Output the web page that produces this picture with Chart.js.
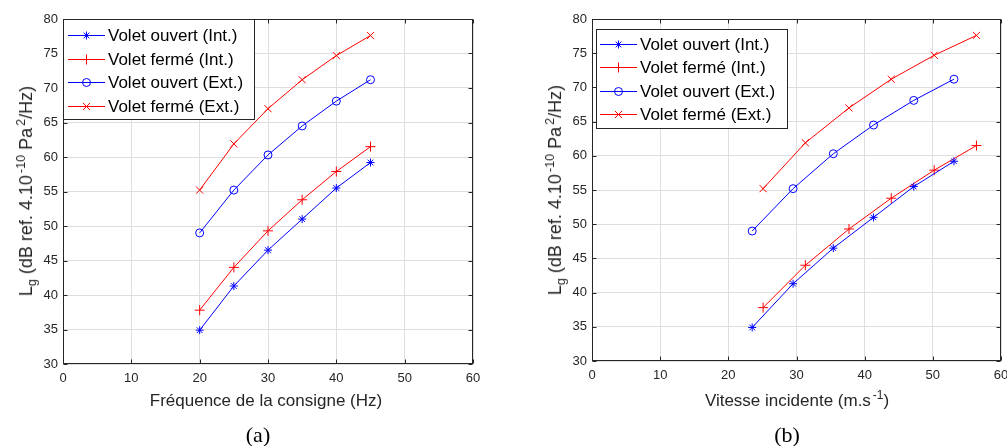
<!DOCTYPE html>
<html>
<head>
<meta charset="utf-8">
<script src="https://cdn.jsdelivr.net/npm/chart.js@4/dist/chart.umd.min.js"></script>
<style>
  body { margin: 0; background: #fff; width: 1007px; height: 446px; position: relative; overflow: hidden;
         font-family: Arial, "Liberation Sans", sans-serif; }
  canvas { position: absolute; top: 0; }
  .t { position: absolute; color: #262626; white-space: nowrap; line-height: 1;
       transform: translate(-50%, -50%); }
  .xt { font-size: 17px; }
  .yt { font-size: 18px; transform: translate(-50%, -50%) rotate(-90deg); }
  .cap { font-family: "Liberation Serif", "Times New Roman", serif; font-size: 22px; color: #000; }
  sup, sub { font-size: 0.7em; vertical-align: 0; position: relative; }
  sup { top: -0.55em; margin-left: 2px; }
  sub { top: 0.35em; }
</style>
</head>
<body>
<canvas id="chartA" width="500" height="446" style="left:0"></canvas>
<canvas id="chartB" width="487" height="446" style="left:520px"></canvas>

<div class="t yt" style="left:26px; top:191px">L<sub>g</sub> (dB ref. 4.10<sup>-10</sup> Pa<sup>2</sup>/Hz)</div>
<div class="t xt" style="left:266px; top:400px">Fréquence de la consigne (Hz)</div>
<div class="t cap" style="left:258px; top:435px">(a)</div>

<div class="t yt" style="left:555px; top:190px">L<sub>g</sub> (dB ref. 4.10<sup>-10</sup> Pa<sup>2</sup>/Hz)</div>
<div class="t xt" style="left:797px; top:400px">Vitesse incidente (m.s<sup>-1</sup>)</div>
<div class="t cap" style="left:787px; top:435px">(b)</div>

<script>
// values
const seriesLabels = ["Volet ouvert (Int.)", "Volet fermé (Int.)", "Volet ouvert (Ext.)", "Volet fermé (Ext.)"];
const freqHz      = [20, 25, 30, 35, 40, 45];
const speedOuvert = [23.5, 29.5, 35.4, 41.3, 47.2, 53.1];
const speedFerme  = [25.1, 31.3, 37.7, 43.9, 50.2, 56.4];
const ouvertInt = [34.9, 41.3, 46.5, 51.0, 55.5, 59.2];
const fermeInt  = [37.8, 44.0, 49.3, 53.8, 57.9, 61.5];
const ouvertExt = [49.0, 55.2, 60.3, 64.5, 68.1, 71.2];
const fermeExt  = [55.2, 61.9, 67.0, 71.2, 74.7, 77.6];
const xMin = 0, xMax = 60, xStep = 10;
const yMin = 30, yMax = 80, yStep = 5;

const styles = [
    { color: "#0000ff", pointStyle: "star",     radius: 4 },
    { color: "#ff0000", pointStyle: "cross",    radius: 5 },
    { color: "#0000ff", pointStyle: "circle",   radius: 4 },
    { color: "#ff0000", pointStyle: "crossRot", radius: 5 },
];

const axisColor = "#262626";
const gridColor = "#dedede";

function pairs(xs, ys) {
    return xs.map((x, i) => ({ x: x, y: ys[i] }));
}

// MATLAB-like box with inward ticks on the four sides
const boxPlugin = {
    id: "box",
    afterDatasetsDraw(chart) {
        const { ctx, chartArea: a, scales } = chart;
        const L = Math.round(a.left) + 0.5, R = Math.round(a.right) - 0.5;
        const T = Math.round(a.top) + 0.5, B = Math.round(a.bottom) - 0.5;
        ctx.save();
        ctx.strokeStyle = axisColor;
        ctx.lineWidth = 1;
        ctx.beginPath();
        scales.x.ticks.forEach(t => {
            const px = Math.round(scales.x.getPixelForValue(t.value)) + 0.5;
            ctx.moveTo(px, B); ctx.lineTo(px, B - 4);
            ctx.moveTo(px, T); ctx.lineTo(px, T + 4);
        });
        scales.y.ticks.forEach(t => {
            const py = Math.round(scales.y.getPixelForValue(t.value)) + 0.5;
            ctx.moveTo(L, py); ctx.lineTo(L + 4, py);
            ctx.moveTo(R, py); ctx.lineTo(R - 4, py);
        });
        ctx.stroke();
        ctx.strokeRect(L, T, R - L, B - T);
        ctx.restore();
    }
};

// legend drawn inside the axes, boxed
const boxLegend = {
    id: "boxLegend",
    afterDraw(chart, args, opts) {
        const { ctx } = chart;
        const bx = opts.x, by = opts.y, bw = opts.w, bh = opts.h;
        ctx.save();
        ctx.fillStyle = "#fff";
        ctx.fillRect(bx, by, bw, bh);
        ctx.strokeStyle = axisColor;
        ctx.lineWidth = 1;
        ctx.strokeRect(bx + 0.5, by + 0.5, bw, bh);
        ctx.font = "17px Arial, 'Liberation Sans', sans-serif";
        ctx.textBaseline = "middle";
        chart.data.datasets.forEach((ds, i) => {
            const y = Math.round(by + opts.first + i * opts.gap) + 0.5;
            const st = styles[i];
            ctx.strokeStyle = st.color;
            ctx.lineWidth = 1;
            ctx.beginPath();
            ctx.moveTo(bx + opts.lineFrom, y);
            ctx.lineTo(bx + opts.lineTo, y);
            ctx.stroke();
            ctx.fillStyle = "rgba(0,0,0,0)";
            Chart.helpers.drawPoint(ctx, {
                pointStyle: st.pointStyle, radius: st.radius, borderWidth: 1, rotation: 0
            }, bx + (opts.lineFrom + opts.lineTo) / 2, y);
            ctx.fillStyle = "#000";
            ctx.fillText(ds.label, bx + opts.textX, y + 1);
        });
        ctx.restore();
    }
};

function makeChart(id, xsList, yAxisWidth, xAxisHeight, padRight, legendOpts) {
    const ys = [ouvertInt, fermeInt, ouvertExt, fermeExt];
    const datasets = ys.map((vals, i) => ({
        label: seriesLabels[i],
        data: pairs(xsList[i], vals),
        borderColor: styles[i].color,
        backgroundColor: styles[i].color,
        pointBackgroundColor: "rgba(0,0,0,0)",
        pointBorderColor: styles[i].color,
        pointStyle: styles[i].pointStyle,
        pointRadius: styles[i].radius,
        pointBorderWidth: 1,
        borderWidth: 1,
        tension: 0,
        fill: false,
    }));

    const tickFont = { family: "Arial, 'Liberation Sans', sans-serif", size: 13 };

    new Chart(document.getElementById(id), {
        type: "line",
        data: { datasets },
        plugins: [boxPlugin, boxLegend],
        options: {
            responsive: false,
            animation: false,
            layout: { padding: { top: 19, right: padRight, left: 0, bottom: 0 } },
            plugins: {
                legend: { display: false },
                tooltip: { enabled: false },
                boxLegend: legendOpts,
            },
            scales: {
                x: {
                    type: "linear",
                    min: xMin, max: xMax,
                    ticks: { stepSize: xStep, color: axisColor, font: tickFont, padding: 7, maxRotation: 0 },
                    grid: { color: gridColor, drawTicks: false },
                    border: { display: false },
                    afterFit(s) { s.height = xAxisHeight; s.paddingLeft = 0; s.paddingRight = 0; },
                },
                y: {
                    type: "linear",
                    min: yMin, max: yMax,
                    ticks: { stepSize: yStep, color: axisColor, font: tickFont, padding: 5 },
                    grid: { color: gridColor, drawTicks: false },
                    border: { display: false },
                    afterFit(s) { s.width = yAxisWidth; s.paddingTop = 0; s.paddingBottom = 0; },
                }
            }
        }
    });
}

makeChart("chartA", [freqHz, freqHz, freqHz, freqHz], 63, 82, 27,
    { x: 63, y: 19, w: 191, h: 100, first: 16, gap: 23.5, lineFrom: 5, lineTo: 42, textX: 45 });

makeChart("chartB", [speedOuvert, speedFerme, speedOuvert, speedFerme], 72, 85, 5,
    { x: 76, y: 29, w: 191, h: 99, first: 15, gap: 23.3, lineFrom: 4, lineTo: 41, textX: 44 });
</script>
</body>
</html>
